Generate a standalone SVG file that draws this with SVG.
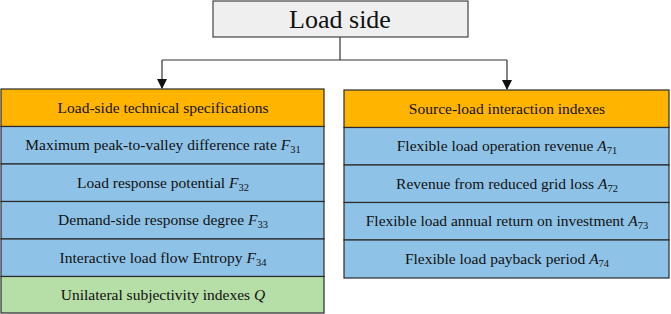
<svg xmlns="http://www.w3.org/2000/svg" width="671" height="314" viewBox="0 0 671 314">
<defs>
<style>
.box{stroke:#2b2b2b;stroke-width:1.2}
.hdr{fill:#FFB400}
.blu{fill:#8EC3E7}
.grn{fill:#B6DEA7}
.top{fill:#EFEFEF;stroke:#444;stroke-width:1.2}
.t{font-family:"Liberation Serif","Times New Roman",serif;font-size:15.5px;fill:#111;text-anchor:middle}
.big{font-size:26px}
.i{font-style:italic}
.s{font-size:10.5px}
.conn{fill:none;stroke:#333;stroke-width:1.2}
</style>
<marker id="ah" markerWidth="10" markerHeight="10" refX="9" refY="5" orient="auto" markerUnits="userSpaceOnUse">
<path d="M0,0 L10,5 L0,10 Z" fill="#111"/>
</marker>
</defs>
<rect width="671" height="314" fill="#fff"/>
<g id="connectors">
<path class="conn" d="M340,37 V60"/>
<path class="conn" d="M162,60 H507"/>
<path class="conn" d="M162,60 V88" marker-end="url(#ah)"/>
<path class="conn" d="M507,60 V89" marker-end="url(#ah)"/>
</g>
<g id="load-side">
<rect class="top" x="213" y="1" width="255" height="36"/>
<text class="t big" x="340" y="28">Load side</text>
</g>
<g id="left-column">
<g id="L0"><rect class="box hdr" x="1" y="89" width="323" height="37.5"/><text class="t" x="163" y="112.5">Load-side technical specifications</text></g>
<g id="L1"><rect class="box blu" x="1" y="126.5" width="323" height="37.5"/><text class="t" x="163" y="150">Maximum peak-to-valley difference rate <tspan class="i">F</tspan><tspan class="s" dy="3">31</tspan></text></g>
<g id="L2"><rect class="box blu" x="1" y="164" width="323" height="37.5"/><text class="t" x="163" y="187.5">Load response potential <tspan class="i">F</tspan><tspan class="s" dy="3">32</tspan></text></g>
<g id="L3"><rect class="box blu" x="1" y="201.5" width="323" height="37.5"/><text class="t" x="163" y="225">Demand-side response degree <tspan class="i">F</tspan><tspan class="s" dy="3">33</tspan></text></g>
<g id="L4"><rect class="box blu" x="1" y="239" width="323" height="37.5"/><text class="t" x="163" y="262.5">Interactive load flow Entropy <tspan class="i">F</tspan><tspan class="s" dy="3">34</tspan></text></g>
<g id="L5"><rect class="box grn" x="1" y="276.5" width="323" height="36.5"/><text class="t" x="163" y="299.5">Unilateral subjectivity indexes <tspan class="i">Q</tspan></text></g>
</g>
<g id="right-column">
<g id="R0"><rect class="box hdr" x="344" y="90" width="325" height="37.5"/><text class="t" x="507" y="113.5">Source-load interaction indexes</text></g>
<g id="R1"><rect class="box blu" x="344" y="127.5" width="325" height="37.5"/><text class="t" x="507" y="151">Flexible load operation revenue <tspan class="i">A</tspan><tspan class="s" dy="3">71</tspan></text></g>
<g id="R2"><rect class="box blu" x="344" y="165" width="325" height="37.5"/><text class="t" x="507" y="188.5">Revenue from reduced grid loss <tspan class="i">A</tspan><tspan class="s" dy="3">72</tspan></text></g>
<g id="R3"><rect class="box blu" x="344" y="202.5" width="325" height="37.5"/><text class="t" x="507" y="226">Flexible load annual return on investment <tspan class="i">A</tspan><tspan class="s" dy="3">73</tspan></text></g>
<g id="R4"><rect class="box blu" x="344" y="240" width="325" height="38"/><text class="t" x="507" y="263.5">Flexible load payback period <tspan class="i">A</tspan><tspan class="s" dy="3">74</tspan></text></g>
</g>
</svg>
